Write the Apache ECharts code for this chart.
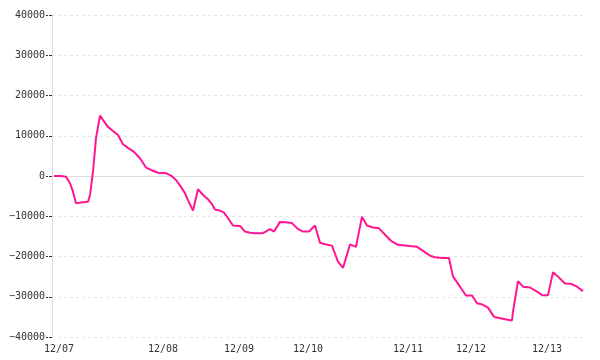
<!DOCTYPE html>
<html>
<head>
<meta charset="utf-8">
<script src="https://cdn.jsdelivr.net/npm/echarts@6/dist/echarts.min.js"></script>
<style>html,body{margin:0;padding:0;background:#fff;}#c{width:600px;height:360px;}</style>
</head>
<body>
<div id="c"></div>
<script>
// x: sample index along the session axis, y: value
var sampleIdx = [1,4.5,7,9,10.5,12,14.5,18,19,20.5,22,24,25.5,28,30.5,33,35.5,38,41,44,47,49.5,53,57,59.5,62,64.5,
  66.5,68,70.5,73,75.5,78,80,81.5,84,86,88,90.5,94,96.5,99,101.5,105.5,109,111,114,116.5,120,123,125.5,128.5,131.5,134,136,
  140,143,145.5,149,152,155,157.5,160.5,163.5,167.5,169.5,173,177.5,182.5,185.5,189,191.5,195,198.5,200.5,
  201.5,204,207,210,212.5,215,218,221,223,226.5,230,230.5,233,235.5,239,242.5,245,248,250.5,253,256.5,259.5,262.5,265.5];
var values = [0,0,-200,-1800,-3900,-6800,-6600,-6400,-4700,1100,9400,15000,13900,12200,11200,10200,7900,7000,6000,4400,2100,1500,800,700,100,-1000,-2700,
  -4300,-6000,-8600,-3300,-4700,-5800,-7000,-8300,-8600,-9100,-10500,-12300,-12400,-13800,-14100,-14200,-14200,-13200,-13800,-11400,-11500,-11700,-13200,-13800,-13800,-12300,-16600,-16900,
  -17300,-21300,-22800,-17000,-17600,-10100,-12300,-12800,-13000,-15100,-16100,-17100,-17300,-17600,-18600,-19800,-20200,-20400,-20400,-25000,
  -25700,-27500,-29700,-29700,-31600,-31900,-32700,-35000,-35200,-35600,-35900,-33700,-26100,-27500,-27700,-28700,-29600,-29600,-23900,-25000,-26700,-26800,-27500,-28600];
var dayLabels = ['12/07','12/08','12/09','12/10','12/11','12/12','12/13'];
var dayPos = [3.5,55.5,93.5,128,178,209.5,247.5];
var yTicks = [-40000,-30000,-20000,-10000,0,10000,20000,30000,40000];

var data = sampleIdx.map(function(x,i){return [x, values[i]];});
var font = 'DejaVu Sans Mono';
var chart = echarts.init(document.getElementById('c'), null, {renderer:'canvas'});
chart.setOption({
  animation:false,
  backgroundColor:'#fff',
  grid:{left:52,right:16,top:15,bottom:23,containLabel:false},
  xAxis:{
    type:'value', min:0, max:266,
    axisLine:{show:false},
    axisTick:{show:false},
    splitLine:{show:false},
    axisLabel:{
      customValues: dayPos,
      margin:7,
      color:'#333', fontFamily:font, fontSize:10,
      formatter:function(v){var i=dayPos.indexOf(v);return i>=0?dayLabels[i]:'';}
    }
  },
  yAxis:{
    type:'value', min:yTicks[0], max:yTicks[yTicks.length-1], interval:10000,
    axisLine:{show:true,lineStyle:{color:'#ddd',width:1}},
    axisTick:{show:true,length:6,lineStyle:{color:'#333',type:[3,1]}},
    axisLabel:{color:'#333',fontFamily:font,fontSize:10,margin:7,
      formatter:function(v){return String(v).replace('-','\u2212');}},
    splitLine:{show:true,lineStyle:{color:'#e6e6e6',type:[3,3],width:1}}
  },
  series:[{
    type:'line', data:data, showSymbol:false, symbol:'none',
    lineStyle:{color:'#ff1493',width:2},
    itemStyle:{color:'#ff1493'},
    z:3,
    markLine:{silent:true,symbol:['none','none'],label:{show:false},
      lineStyle:{color:'#ddd',type:'solid',width:1},
      data:[{yAxis:0}], animation:false, z:1}
  }]
});
</script>
</body>
</html>
